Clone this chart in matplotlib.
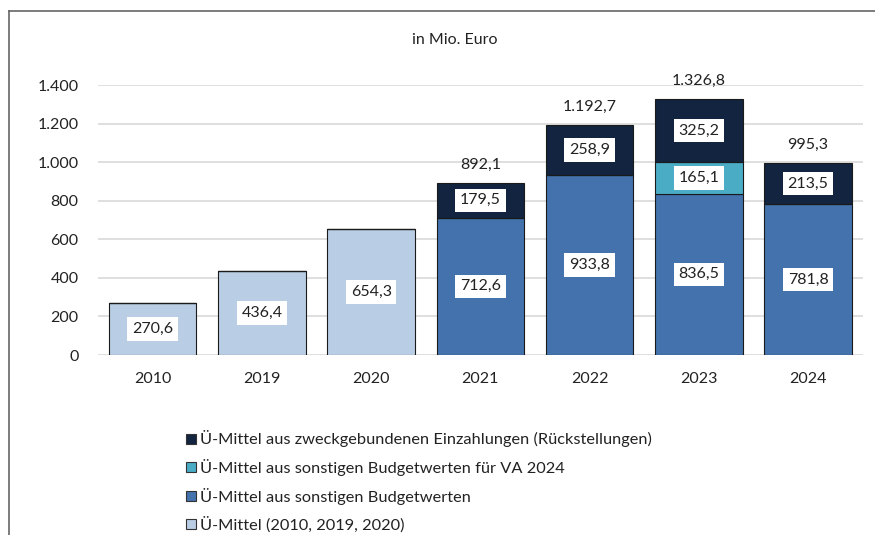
import matplotlib
matplotlib.use("Agg")
import matplotlib.pyplot as plt
from matplotlib.lines import Line2D
import numpy as np

plt.rcParams["font.family"] = ["Lato", "DejaVu Sans"]

years = ["2010", "2019", "2020", "2021", "2022", "2023", "2024"]
ue_alt = [270.6, 436.4, 654.3, 0, 0, 0, 0]
sonstige = [0, 0, 0, 712.6, 933.8, 836.5, 781.8]
va2024 = [0, 0, 0, 0, 0, 165.1, 0]
zweck = [0, 0, 0, 179.5, 258.9, 325.2, 213.5]
yticks = [0, 200, 400, 600, 800, 1000, 1200, 1400]

series = [
    ("Ü-Mittel (2010, 2019, 2020)", ue_alt, "#B9CDE5"),
    ("Ü-Mittel aus sonstigen Budgetwerten", sonstige, "#4372AC"),
    ("Ü-Mittel aus sonstigen Budgetwerten für VA 2024", va2024, "#4BACC6"),
    ("Ü-Mittel aus zweckgebundenen Einzahlungen (Rückstellungen)", zweck, "#12243F"),
]


def de_fmt(v):
    s = f"{v:,.1f}"
    return s.replace(",", "X").replace(".", ",").replace("X", ".")


fig = plt.figure(figsize=(8.75, 5.35), dpi=100)
ax = fig.add_axes([0.112, 0.3364, 0.874, 0.5046])

x = np.arange(len(years))
bottom = np.zeros(len(years))
handles = []
for name, vals, col in series:
    vals = np.array(vals, dtype=float)
    ax.bar(x, vals, 0.8, bottom=bottom, color=col, edgecolor="#1a1a1a",
           linewidth=0.8, zorder=3)
    for xi, v, b in zip(x, vals, bottom):
        if v > 0:
            ax.text(xi, b + v / 2, de_fmt(v), ha="center", va="center",
                    fontsize=11.5, color="#222222", zorder=5,
                    bbox=dict(boxstyle="square,pad=0.3", fc="white", ec="none"))
    bottom += vals
    handles.append(Line2D([], [], marker="s", linestyle="none", markersize=7,
                          markerfacecolor=col, markeredgecolor="#333333",
                          markeredgewidth=0.8, label=name))

# totals above stacked bars
for xi, tot, s in zip(x, bottom, sonstige):
    if s > 0:
        ax.annotate(de_fmt(tot), (xi, tot), xytext=(0, 8),
                    textcoords="offset points", ha="center", va="bottom",
                    fontsize=11.5, color="#222222")

ax.set_xlim(-0.5, len(years) - 0.5)
ax.set_ylim(0, 1400)
ax.set_yticks(yticks)
ax.set_yticklabels([de_fmt(t)[:-2] for t in yticks])
ax.set_xticks(x)
ax.set_xticklabels(years)
ax.tick_params(length=0, labelsize=11.5, colors="#222222", pad=12)
ax.tick_params(axis="y", pad=14)
ax.grid(axis="y", color="#D9D9D9", linewidth=1.2, zorder=0)
for sp in ax.spines.values():
    sp.set_visible(False)

fig.text(0.52, 0.925, "in Mio. Euro", ha="center", va="center",
         fontsize=11.5, color="#222222")

fig.legend(handles=handles[::-1], loc="upper left",
           bbox_to_anchor=(0.205, 0.208), frameon=False, fontsize=11.8,
           handlelength=0.6, handletextpad=0.25, labelspacing=0.72,
           borderaxespad=0, labelcolor="#222222")

# outer frame lines (left and top)
fig.add_artist(Line2D([0.0103, 0.0103], [0, 0.9795], color="#666666",
                      linewidth=1.2, transform=fig.transFigure))
fig.add_artist(Line2D([0.0103, 1.0], [0.9795, 0.9795], color="#666666",
                      linewidth=1.2, transform=fig.transFigure))

fig.savefig("out.png", dpi=100)
